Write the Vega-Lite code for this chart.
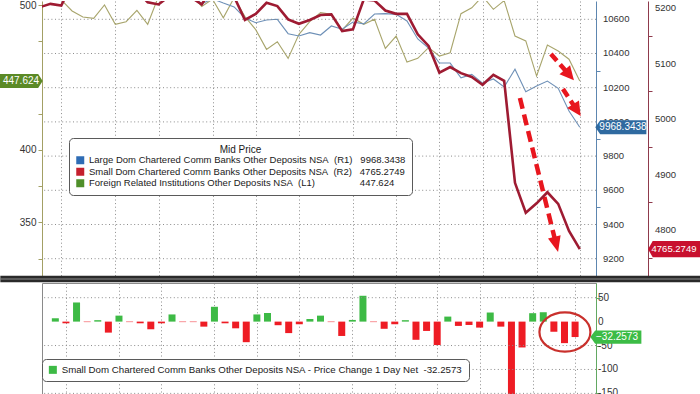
{
"$schema": "https://vega.github.io/schema/vega-lite/v6.json",
"background": "white",
"padding": 0,
"spacing": -2.4,
"config": {"view": {"stroke": null}, "font": "Liberation Sans", "axis": {"labelFont": "Liberation Sans", "labelColor": "#333333"}},
"datasets": {
"lines": [
{"date":"2022-05-11","s":"Large","v":10750},{"date":"2022-05-18","s":"Large","v":10755},{"date":"2022-05-25","s":"Large","v":10760},{"date":"2022-06-01","s":"Large","v":10770},{"date":"2022-06-08","s":"Large","v":10765},{"date":"2022-06-15","s":"Large","v":10775},{"date":"2022-06-22","s":"Large","v":10760},{"date":"2022-06-29","s":"Large","v":10770},{"date":"2022-07-06","s":"Large","v":10765},{"date":"2022-07-13","s":"Large","v":10760},{"date":"2022-07-20","s":"Large","v":10745},{"date":"2022-07-27","s":"Large","v":10740},{"date":"2022-08-03","s":"Large","v":10755},{"date":"2022-08-10","s":"Large","v":10760},{"date":"2022-08-17","s":"Large","v":10750},{"date":"2022-08-24","s":"Large","v":10690},{"date":"2022-08-31","s":"Large","v":10720},{"date":"2022-09-07","s":"Large","v":10695},{"date":"2022-09-14","s":"Large","v":10672},{"date":"2022-09-21","s":"Large","v":10608},{"date":"2022-09-28","s":"Large","v":10580},{"date":"2022-10-05","s":"Large","v":10596},{"date":"2022-10-12","s":"Large","v":10600},{"date":"2022-10-19","s":"Large","v":10516},{"date":"2022-10-26","s":"Large","v":10502},{"date":"2022-11-02","s":"Large","v":10522},{"date":"2022-11-09","s":"Large","v":10508},{"date":"2022-11-16","s":"Large","v":10561},{"date":"2022-11-23","s":"Large","v":10542},{"date":"2022-11-30","s":"Large","v":10584},{"date":"2022-12-07","s":"Large","v":10573},{"date":"2022-12-14","s":"Large","v":10631},{"date":"2022-12-21","s":"Large","v":10633},{"date":"2022-12-28","s":"Large","v":10629},{"date":"2023-01-04","s":"Large","v":10590},{"date":"2023-01-11","s":"Large","v":10485},{"date":"2023-01-18","s":"Large","v":10432},{"date":"2023-01-25","s":"Large","v":10344},{"date":"2023-02-01","s":"Large","v":10344},{"date":"2023-02-08","s":"Large","v":10258},{"date":"2023-02-15","s":"Large","v":10278},{"date":"2023-02-22","s":"Large","v":10227},{"date":"2023-03-01","s":"Large","v":10251},{"date":"2023-03-08","s":"Large","v":10204},{"date":"2023-03-15","s":"Large","v":10308},{"date":"2023-03-22","s":"Large","v":10177},{"date":"2023-03-29","s":"Large","v":10210},{"date":"2023-04-05","s":"Large","v":10239},{"date":"2023-04-12","s":"Large","v":10196},{"date":"2023-04-19","s":"Large","v":10064},{"date":"2023-04-26","s":"Large","v":9968.3438},
{"date":"2022-05-11","s":"Small","v":5202},{"date":"2022-05-18","s":"Small","v":5208},{"date":"2022-05-25","s":"Small","v":5205},{"date":"2022-06-01","s":"Small","v":5245},{"date":"2022-06-08","s":"Small","v":5244},{"date":"2022-06-15","s":"Small","v":5247},{"date":"2022-06-22","s":"Small","v":5224},{"date":"2022-06-29","s":"Small","v":5236},{"date":"2022-07-06","s":"Small","v":5235},{"date":"2022-07-13","s":"Small","v":5231},{"date":"2022-07-20","s":"Small","v":5211},{"date":"2022-07-27","s":"Small","v":5207},{"date":"2022-08-03","s":"Small","v":5222},{"date":"2022-08-10","s":"Small","v":5221},{"date":"2022-08-17","s":"Small","v":5220},{"date":"2022-08-24","s":"Small","v":5207},{"date":"2022-08-31","s":"Small","v":5238},{"date":"2022-09-07","s":"Small","v":5234},{"date":"2022-09-14","s":"Small","v":5221},{"date":"2022-09-21","s":"Small","v":5179},{"date":"2022-09-28","s":"Small","v":5190},{"date":"2022-10-05","s":"Small","v":5210},{"date":"2022-10-12","s":"Small","v":5204},{"date":"2022-10-19","s":"Small","v":5180},{"date":"2022-10-26","s":"Small","v":5172},{"date":"2022-11-02","s":"Small","v":5179},{"date":"2022-11-09","s":"Small","v":5188},{"date":"2022-11-16","s":"Small","v":5189},{"date":"2022-11-23","s":"Small","v":5159},{"date":"2022-11-30","s":"Small","v":5162},{"date":"2022-12-07","s":"Small","v":5216},{"date":"2022-12-14","s":"Small","v":5214},{"date":"2022-12-21","s":"Small","v":5196},{"date":"2022-12-28","s":"Small","v":5190},{"date":"2023-01-04","s":"Small","v":5190},{"date":"2023-01-11","s":"Small","v":5153},{"date":"2023-01-18","s":"Small","v":5132},{"date":"2023-01-25","s":"Small","v":5084},{"date":"2023-02-01","s":"Small","v":5094},{"date":"2023-02-08","s":"Small","v":5083},{"date":"2023-02-15","s":"Small","v":5076},{"date":"2023-02-22","s":"Small","v":5062},{"date":"2023-03-01","s":"Small","v":5080},{"date":"2023-03-08","s":"Small","v":5069},{"date":"2023-03-15","s":"Small","v":4885},{"date":"2023-03-22","s":"Small","v":4831},{"date":"2023-03-29","s":"Small","v":4848},{"date":"2023-04-05","s":"Small","v":4868},{"date":"2023-04-12","s":"Small","v":4847},{"date":"2023-04-19","s":"Small","v":4798},{"date":"2023-04-26","s":"Small","v":4765.2749},
{"date":"2022-05-11","s":"Foreign","v":508},{"date":"2022-05-18","s":"Foreign","v":506},{"date":"2022-05-25","s":"Foreign","v":503.5},{"date":"2022-06-01","s":"Foreign","v":495.9},{"date":"2022-06-08","s":"Foreign","v":491.7},{"date":"2022-06-15","s":"Foreign","v":490.8},{"date":"2022-06-22","s":"Foreign","v":500},{"date":"2022-06-29","s":"Foreign","v":486.7},{"date":"2022-07-06","s":"Foreign","v":488.5},{"date":"2022-07-13","s":"Foreign","v":496.3},{"date":"2022-07-20","s":"Foreign","v":486.7},{"date":"2022-07-27","s":"Foreign","v":506},{"date":"2022-08-03","s":"Foreign","v":512},{"date":"2022-08-10","s":"Foreign","v":510},{"date":"2022-08-17","s":"Foreign","v":508},{"date":"2022-08-24","s":"Foreign","v":499},{"date":"2022-08-31","s":"Foreign","v":504},{"date":"2022-09-07","s":"Foreign","v":491.2},{"date":"2022-09-14","s":"Foreign","v":505},{"date":"2022-09-21","s":"Foreign","v":492},{"date":"2022-09-28","s":"Foreign","v":483},{"date":"2022-10-05","s":"Foreign","v":469.4},{"date":"2022-10-12","s":"Foreign","v":474.7},{"date":"2022-10-19","s":"Foreign","v":463.2},{"date":"2022-10-26","s":"Foreign","v":479.8},{"date":"2022-11-02","s":"Foreign","v":488.5},{"date":"2022-11-09","s":"Foreign","v":494.7},{"date":"2022-11-16","s":"Foreign","v":493.6},{"date":"2022-11-23","s":"Foreign","v":482.6},{"date":"2022-11-30","s":"Foreign","v":491},{"date":"2022-12-07","s":"Foreign","v":486.7},{"date":"2022-12-14","s":"Foreign","v":490.1},{"date":"2022-12-21","s":"Foreign","v":470.1},{"date":"2022-12-28","s":"Foreign","v":478.6},{"date":"2023-01-04","s":"Foreign","v":460.7},{"date":"2023-01-11","s":"Foreign","v":463.2},{"date":"2023-01-18","s":"Foreign","v":470.6},{"date":"2023-01-25","s":"Foreign","v":464.8},{"date":"2023-02-01","s":"Foreign","v":467.1},{"date":"2023-02-08","s":"Foreign","v":494},{"date":"2023-02-15","s":"Foreign","v":498.1},{"date":"2023-02-22","s":"Foreign","v":506},{"date":"2023-03-01","s":"Foreign","v":497},{"date":"2023-03-08","s":"Foreign","v":503},{"date":"2023-03-15","s":"Foreign","v":478.6},{"date":"2023-03-22","s":"Foreign","v":475.2},{"date":"2023-03-29","s":"Foreign","v":451},{"date":"2023-04-05","s":"Foreign","v":472.4},{"date":"2023-04-12","s":"Foreign","v":468.3},{"date":"2023-04-19","s":"Foreign","v":462.6},{"date":"2023-04-26","s":"Foreign","v":447.624}
],
"bars": [
{"date":"2022-05-18","c":7},{"date":"2022-05-25","c":-3.5},{"date":"2022-06-01","c":40},{"date":"2022-06-08","c":-1},{"date":"2022-06-15","c":3},{"date":"2022-06-22","c":-23},{"date":"2022-06-29","c":12.5},{"date":"2022-07-06","c":-1},{"date":"2022-07-13","c":-3.5},{"date":"2022-07-20","c":-16},{"date":"2022-07-27","c":-3.5},{"date":"2022-08-03","c":15},{"date":"2022-08-10","c":-1},{"date":"2022-08-17","c":-1},{"date":"2022-08-24","c":-10.5},{"date":"2022-08-31","c":31},{"date":"2022-09-07","c":-3.5},{"date":"2022-09-14","c":-14},{"date":"2022-09-21","c":-43},{"date":"2022-09-28","c":15},{"date":"2022-10-05","c":18},{"date":"2022-10-12","c":-7.5},{"date":"2022-10-19","c":-24},{"date":"2022-10-26","c":-5.5},{"date":"2022-11-02","c":5.5},{"date":"2022-11-09","c":12.5},{"date":"2022-11-16","c":-1},{"date":"2022-11-23","c":-30},{"date":"2022-11-30","c":3.5},{"date":"2022-12-07","c":54},{"date":"2022-12-14","c":-1},{"date":"2022-12-21","c":-15},{"date":"2022-12-28","c":-5.5},{"date":"2023-01-04","c":3},{"date":"2023-01-11","c":-38},{"date":"2023-01-18","c":-19.5},{"date":"2023-01-25","c":-49},{"date":"2023-02-01","c":10.5},{"date":"2023-02-08","c":-9},{"date":"2023-02-15","c":-7},{"date":"2023-02-22","c":-12.5},{"date":"2023-03-01","c":19},{"date":"2023-03-08","c":-10.5},{"date":"2023-03-15","c":-184},{"date":"2023-03-22","c":-54},{"date":"2023-03-29","c":17.6},{"date":"2023-04-05","c":19.6},{"date":"2023-04-12","c":-21},{"date":"2023-04-19","c":-45},{"date":"2023-04-26","c":-32.2573}
]
},
"vconcat": [
{
"width": 554, "height": 278,
"layer": [
{
"layer": [
{"data": {"name": "lines"}, "transform": [{"filter": "datum.s === 'Foreign'"}],
 "mark": {"type": "line", "color": "#a8a56c", "strokeWidth": 1.1, "clip": true},
 "encoding": {
  "x": {"field": "date", "type": "temporal", "scale": {"domain": [{"year":2022,"month":5,"date":12,"hours":12},{"year":2023,"month":5,"date":6,"hours":12}]},
        "axis": {"values": [{"year":2022,"month":5,"date":25},{"year":2022,"month":6,"date":29},{"year":2022,"month":7,"date":27},{"year":2022,"month":8,"date":31},{"year":2022,"month":9,"date":28},{"year":2022,"month":10,"date":26},{"year":2022,"month":11,"date":30},{"year":2022,"month":12,"date":28},{"year":2023,"month":1,"date":25},{"year":2023,"month":2,"date":22},{"year":2023,"month":3,"date":29},{"year":2023,"month":4,"date":26}],
                 "labels": false, "ticks": false, "domain": false, "title": null, "grid": true, "gridColor": "#8c8c8c", "gridDash": [1, 2.6]}},
  "y": {"field": "v", "type": "quantitative", "scale": {"domain": [311.03, 502.76], "nice": false, "zero": false},
        "axis": {"orient": "left", "values": [325,350,375,400,425,475,500], "labelExpr": "datum.value % 50 === 0 ? datum.label : ''", "labelOverlap": false, "grid": false, "domainColor": "#a3a065", "tickColor": "#a3a065", "tickSize": 4, "labelPadding": 2, "title": null, "labelFontSize": 10, "labelColor": "#333333"}}
 }},
{"data": {"values": [{}]}, "mark": {"type": "rect", "color": "#2a2a2a"},
 "encoding": {"x": {"datum": {"year":2022,"month":4,"date":15,"hours":12}, "type": "temporal"}, "x2": {"datum": {"year":2023,"month":8,"date":1}}, "y": {"datum": 313.31, "type": "quantitative"}, "y2": {"datum": 308.75}}},
{"data": {"values": [{}]}, "mark": {"type": "rect", "color": "#8c8c8c"},
 "encoding": {"x": {"datum": {"year":2022,"month":4,"date":15,"hours":12}, "type": "temporal"}, "x2": {"datum": {"year":2023,"month":8,"date":1}}, "y": {"datum": 311.37, "type": "quantitative"}, "y2": {"datum": 310.69}}},
{"data": {"name": "lines"}, "transform": [{"filter": "datum.s === 'Foreign' && utcyear(datum.date) === 2023 && utcmonth(datum.date) === 3 && utcdate(datum.date) === 26"}],
 "mark": {"type": "point", "shape": "M0.1,0 L-0.55,-1 L-6,-1 L-6,1 L-0.55,1 Z", "size": 196, "filled": true, "color": "#5b8a26", "opacity": 1},
 "encoding": {"x": {"datum": {"year":2022,"month":5,"date":12,"hours":12}, "type": "temporal"}, "y": {"field": "v", "type": "quantitative"}}},
{"data": {"name": "lines"}, "transform": [{"filter": "datum.s === 'Foreign' && utcyear(datum.date) === 2023 && utcmonth(datum.date) === 3 && utcdate(datum.date) === 26"}],
 "mark": {"type": "text", "color": "white", "fontSize": 10, "dx": -21, "align": "center", "baseline": "middle"},
 "encoding": {"x": {"datum": {"year":2022,"month":5,"date":12,"hours":12}, "type": "temporal"}, "y": {"field": "v", "type": "quantitative"}, "text": {"field": "v", "type": "quantitative", "format": ".3f"}}}
]
},
{
"layer": [
{"data": {"name": "lines"}, "transform": [{"filter": "datum.s === 'Large'"}],
 "mark": {"type": "line", "color": "#6e90b7", "strokeWidth": 1.1, "clip": true},
 "encoding": {
  "x": {"field": "date", "type": "temporal"},
  "y": {"field": "v", "type": "quantitative", "scale": {"domain": [9081.3, 10707], "nice": false, "zero": false},
        "axis": {"orient": "right", "values": [9100,9200,9300,9400,9500,9600,9700,9800,9900,10000,10100,10200,10300,10400,10500,10600], "labels": false, "grid": false, "domainColor": "#5d86b0", "tickColor": "#5d86b0", "tickSize": 4, "title": null}}
 }},
{"data": {"values": [{}]}, "mark": {"type": "rule", "color": "#8c8c8c", "strokeDash": [1, 2.6], "strokeWidth": 1}, "encoding": {"y": {"datum": 10600, "type": "quantitative"}}},
{"data": {"values": [{}]}, "mark": {"type": "rule", "color": "#8c8c8c", "strokeDash": [1, 2.6], "strokeWidth": 1}, "encoding": {"y": {"datum": 10400, "type": "quantitative"}}},
{"data": {"values": [{}]}, "mark": {"type": "rule", "color": "#8c8c8c", "strokeDash": [1, 2.6], "strokeWidth": 1}, "encoding": {"y": {"datum": 10200, "type": "quantitative"}}},
{"data": {"values": [{}]}, "mark": {"type": "rule", "color": "#8c8c8c", "strokeDash": [1, 2.6], "strokeWidth": 1}, "encoding": {"y": {"datum": 10000, "type": "quantitative"}}},
{"data": {"values": [{}]}, "mark": {"type": "rule", "color": "#8c8c8c", "strokeDash": [1, 2.6], "strokeWidth": 1}, "encoding": {"y": {"datum": 9800, "type": "quantitative"}}},
{"data": {"values": [{}]}, "mark": {"type": "rule", "color": "#8c8c8c", "strokeDash": [1, 2.6], "strokeWidth": 1}, "encoding": {"y": {"datum": 9600, "type": "quantitative"}}},
{"data": {"values": [{}]}, "mark": {"type": "rule", "color": "#8c8c8c", "strokeDash": [1, 2.6], "strokeWidth": 1}, "encoding": {"y": {"datum": 9400, "type": "quantitative"}}},
{"data": {"values": [{}]}, "mark": {"type": "rule", "color": "#8c8c8c", "strokeDash": [1, 2.6], "strokeWidth": 1}, "encoding": {"y": {"datum": 9200, "type": "quantitative"}}},
{"data": {"values": [{}]}, "mark": {"type": "text", "align": "left", "baseline": "middle", "dx": 7, "fontSize": 9.5, "color": "#333333"}, "encoding": {"x": {"datum": {"year":2023,"month":5,"date":6,"hours":12}, "type": "temporal"}, "y": {"datum": 10600, "type": "quantitative"}, "text": {"value": "10600"}}},
{"data": {"values": [{}]}, "mark": {"type": "text", "align": "left", "baseline": "middle", "dx": 7, "fontSize": 9.5, "color": "#333333"}, "encoding": {"x": {"datum": {"year":2023,"month":5,"date":6,"hours":12}, "type": "temporal"}, "y": {"datum": 10400, "type": "quantitative"}, "text": {"value": "10400"}}},
{"data": {"values": [{}]}, "mark": {"type": "text", "align": "left", "baseline": "middle", "dx": 7, "fontSize": 9.5, "color": "#333333"}, "encoding": {"x": {"datum": {"year":2023,"month":5,"date":6,"hours":12}, "type": "temporal"}, "y": {"datum": 10200, "type": "quantitative"}, "text": {"value": "10200"}}},
{"data": {"values": [{}]}, "mark": {"type": "text", "align": "left", "baseline": "middle", "dx": 7, "fontSize": 9.5, "color": "#333333"}, "encoding": {"x": {"datum": {"year":2023,"month":5,"date":6,"hours":12}, "type": "temporal"}, "y": {"datum": 10000, "type": "quantitative"}, "text": {"value": "10000"}}},
{"data": {"values": [{}]}, "mark": {"type": "text", "align": "left", "baseline": "middle", "dx": 7, "fontSize": 9.5, "color": "#333333"}, "encoding": {"x": {"datum": {"year":2023,"month":5,"date":6,"hours":12}, "type": "temporal"}, "y": {"datum": 9800, "type": "quantitative"}, "text": {"value": "9800"}}},
{"data": {"values": [{}]}, "mark": {"type": "text", "align": "left", "baseline": "middle", "dx": 7, "fontSize": 9.5, "color": "#333333"}, "encoding": {"x": {"datum": {"year":2023,"month":5,"date":6,"hours":12}, "type": "temporal"}, "y": {"datum": 9600, "type": "quantitative"}, "text": {"value": "9600"}}},
{"data": {"values": [{}]}, "mark": {"type": "text", "align": "left", "baseline": "middle", "dx": 7, "fontSize": 9.5, "color": "#333333"}, "encoding": {"x": {"datum": {"year":2023,"month":5,"date":6,"hours":12}, "type": "temporal"}, "y": {"datum": 9400, "type": "quantitative"}, "text": {"value": "9400"}}},
{"data": {"values": [{}]}, "mark": {"type": "text", "align": "left", "baseline": "middle", "dx": 7, "fontSize": 9.5, "color": "#333333"}, "encoding": {"x": {"datum": {"year":2023,"month":5,"date":6,"hours":12}, "type": "temporal"}, "y": {"datum": 9200, "type": "quantitative"}, "text": {"value": "9200"}}},
{"data": {"name": "lines"},
 "mark": {"type": "point", "filled": true, "opacity": 0, "clip": true},
 "encoding": {
  "x": {"field": "date", "type": "temporal"},
  "y": {"field": "v", "type": "quantitative"},
  "fill": {"field": "s", "type": "nominal", "scale": {"domain": ["Large", "Small", "Foreign"], "range": ["#2e6cb5", "#c5202e", "#4f8f2a"]},
   "legend": {"title": "Mid Price", "orient": "none", "legendX": 27, "legendY": 137, "direction": "vertical",
    "symbolType": "square", "symbolSize": 64, "symbolStrokeWidth": 0, "symbolOpacity": 1,
    "labelFont": "Liberation Sans", "labelFontSize": 9.5, "labelColor": "#1a1a1a", "labelLimit": 0, "labelOffset": 4,
    "titleFont": "Liberation Sans", "titleFontSize": 10, "titleFontWeight": "normal", "titleColor": "#1a1a1a", "titleAnchor": "middle", "titlePadding": 1,
    "fillColor": "white", "strokeColor": "#5a5a5a", "cornerRadius": 4, "padding": 6.5, "rowPadding": 0.5,
    "labelExpr": "datum.label === 'Large' ? 'Large Dom Chartered Comm Banks Other Deposits NSA\u00a0\u00a0(R1)\u00a0\u00a0\u00a09968.3438' : datum.label === 'Small' ? 'Small Dom Chartered Comm Banks Other Deposits NSA\u00a0\u00a0(R2)\u00a0\u00a0\u00a04765.2749' : 'Foreign Related Institutions Other Deposits NSA\u00a0\u00a0(L1)\u00a0\u00a0\u00a0\u00a0\u00a0\u00a0\u00a0\u00a0\u00a0\u00a0\u00a0\u00a0\u00a0\u00a0\u00a0\u00a0\u00a0447.624'"}}
 }},
{"data": {"values": [{}]}, "mark": {"type": "rule", "color": "#e8161e", "strokeWidth": 4.5, "strokeDash": [11, 6]},
 "encoding": {"x": {"datum": {"year":2023,"month":3,"date":18,"hours":5}, "type": "temporal"}, "x2": {"datum": {"year":2023,"month":4,"date":9,"hours":19}}, "y": {"datum": 10139.8, "type": "quantitative"}, "y2": {"datum": 9316.4}}},
{"data": {"values": [{}]}, "mark": {"type": "point", "shape": "M0,0 L-1,-2.4 L1,-2.4 Z", "size": 169, "filled": true, "color": "#e8161e", "opacity": 1, "angle": 346},
 "encoding": {"x": {"datum": {"year":2023,"month":4,"date":11,"hours":22}, "type": "temporal"}, "y": {"datum": 9239.2, "type": "quantitative"}}},
{"data": {"values": [{}]}, "mark": {"type": "rule", "color": "#e8161e", "strokeWidth": 4.5, "strokeDash": [9, 5]},
 "encoding": {"x": {"datum": {"year":2023,"month":4,"date":7,"hours":7}, "type": "temporal"}, "x2": {"datum": {"year":2023,"month":4,"date":16,"hours":17}}, "y": {"datum": 10397, "type": "quantitative"}, "y2": {"datum": 10300}}},
{"data": {"values": [{}]}, "mark": {"type": "point", "shape": "M0,0 L-1,-2 L1,-2 Z", "size": 196, "filled": true, "color": "#e8161e", "opacity": 1, "angle": 319},
 "encoding": {"x": {"datum": {"year":2023,"month":4,"date":22,"hours":5}, "type": "temporal"}, "y": {"datum": 10243, "type": "quantitative"}}},
{"data": {"values": [{}]}, "mark": {"type": "rule", "color": "#e8161e", "strokeWidth": 4.5, "strokeDash": [9, 5]},
 "encoding": {"x": {"datum": {"year":2023,"month":4,"date":15,"hours":2}, "type": "temporal"}, "x2": {"datum": {"year":2023,"month":4,"date":22,"hours":0}}, "y": {"datum": 10192.4, "type": "quantitative"}, "y2": {"datum": 10097.7}}},
{"data": {"values": [{}]}, "mark": {"type": "point", "shape": "M0,0 L-1,-2 L1,-2 Z", "size": 196, "filled": true, "color": "#e8161e", "opacity": 1, "angle": 327},
 "encoding": {"x": {"datum": {"year":2023,"month":4,"date":26,"hours":14}, "type": "temporal"}, "y": {"datum": 10034.5, "type": "quantitative"}}},
{"data": {"name": "lines"}, "transform": [{"filter": "datum.s === 'Large' && utcyear(datum.date) === 2023 && utcmonth(datum.date) === 3 && utcdate(datum.date) === 26"}],
 "mark": {"type": "point", "shape": "M-0.1,0 L0.6,-1 L7.2,-1 L7.2,1 L0.6,1 Z", "size": 196, "filled": true, "color": "#2f6aa0", "opacity": 1},
 "encoding": {"x": {"datum": {"year":2023,"month":5,"date":6,"hours":12}, "type": "temporal"}, "y": {"field": "v", "type": "quantitative"}}},
{"data": {"name": "lines"}, "transform": [{"filter": "datum.s === 'Large' && utcyear(datum.date) === 2023 && utcmonth(datum.date) === 3 && utcdate(datum.date) === 26"}],
 "mark": {"type": "text", "color": "white", "fontSize": 10, "dx": 27, "align": "center", "baseline": "middle"},
 "encoding": {"x": {"datum": {"year":2023,"month":5,"date":6,"hours":12}, "type": "temporal"}, "y": {"field": "v", "type": "quantitative"}, "text": {"field": "v", "type": "quantitative", "format": ".4f"}}}
]
},
{
"layer": [
{"data": {"name": "lines"}, "transform": [{"filter": "datum.s === 'Small'"}],
 "mark": {"type": "line", "color": "#9e1b32", "strokeWidth": 2.6, "clip": true},
 "encoding": {
  "x": {"field": "date", "type": "temporal"},
  "y": {"field": "v", "type": "quantitative", "scale": {"domain": [4711.4, 5213.2], "nice": false, "zero": false},
        "axis": {"orient": "right", "offset": 52, "values": [4750,4800,4850,4900,4950,5000,5050,5100,5150,5200], "labels": false, "grid": false, "domainColor": "#8f3a4c", "tickColor": "#8f3a4c", "tickSize": 4, "title": null}}
 }},
{"data": {"values": [{}]}, "mark": {"type": "text", "align": "left", "baseline": "middle", "dx": 59, "fontSize": 9.5, "color": "#333333"}, "encoding": {"x": {"datum": {"year":2023,"month":5,"date":6,"hours":12}, "type": "temporal"}, "y": {"datum": 5200, "type": "quantitative"}, "text": {"value": "5200"}}},
{"data": {"values": [{}]}, "mark": {"type": "text", "align": "left", "baseline": "middle", "dx": 59, "fontSize": 9.5, "color": "#333333"}, "encoding": {"x": {"datum": {"year":2023,"month":5,"date":6,"hours":12}, "type": "temporal"}, "y": {"datum": 5100, "type": "quantitative"}, "text": {"value": "5100"}}},
{"data": {"values": [{}]}, "mark": {"type": "text", "align": "left", "baseline": "middle", "dx": 59, "fontSize": 9.5, "color": "#333333"}, "encoding": {"x": {"datum": {"year":2023,"month":5,"date":6,"hours":12}, "type": "temporal"}, "y": {"datum": 5000, "type": "quantitative"}, "text": {"value": "5000"}}},
{"data": {"values": [{}]}, "mark": {"type": "text", "align": "left", "baseline": "middle", "dx": 59, "fontSize": 9.5, "color": "#333333"}, "encoding": {"x": {"datum": {"year":2023,"month":5,"date":6,"hours":12}, "type": "temporal"}, "y": {"datum": 4900, "type": "quantitative"}, "text": {"value": "4900"}}},
{"data": {"values": [{}]}, "mark": {"type": "text", "align": "left", "baseline": "middle", "dx": 59, "fontSize": 9.5, "color": "#333333"}, "encoding": {"x": {"datum": {"year":2023,"month":5,"date":6,"hours":12}, "type": "temporal"}, "y": {"datum": 4800, "type": "quantitative"}, "text": {"value": "4800"}}},
{"data": {"name": "lines"}, "transform": [{"filter": "datum.s === 'Small' && utcyear(datum.date) === 2023 && utcmonth(datum.date) === 3 && utcdate(datum.date) === 26"}],
 "mark": {"type": "point", "shape": "M7.43,0 L8.1,-1.15 L16,-1.15 L16,1.15 L8.1,1.15 Z", "size": 196, "filled": true, "color": "#c8102e", "opacity": 1},
 "encoding": {"x": {"datum": {"year":2023,"month":5,"date":6,"hours":12}, "type": "temporal"}, "y": {"field": "v", "type": "quantitative"}}},
{"data": {"name": "lines"}, "transform": [{"filter": "datum.s === 'Small' && utcyear(datum.date) === 2023 && utcmonth(datum.date) === 3 && utcdate(datum.date) === 26"}],
 "mark": {"type": "text", "color": "white", "fontSize": 9.5, "dx": 78, "align": "center", "baseline": "middle"},
 "encoding": {"x": {"datum": {"year":2023,"month":5,"date":6,"hours":12}, "type": "temporal"}, "y": {"field": "v", "type": "quantitative"}, "text": {"field": "v", "type": "quantitative", "format": ".4f"}}}
]
}
],
"resolve": {"scale": {"y": "independent"}, "axis": {"y": "independent"}}
},
{
"width": 554, "height": 130,
"view": {"stroke": "#8a8a8a", "strokeWidth": 1},
"layer": [
{"data": {"name": "bars"},
 "mark": {"type": "bar", "width": 7},
 "encoding": {
  "x": {"field": "date", "type": "temporal", "scale": {"domain": [{"year":2022,"month":5,"date":12,"hours":12},{"year":2023,"month":5,"date":6,"hours":12}]},
        "axis": {"values": [{"year":2022,"month":5,"date":25},{"year":2022,"month":6,"date":29},{"year":2022,"month":7,"date":27},{"year":2022,"month":8,"date":31},{"year":2022,"month":9,"date":28},{"year":2022,"month":10,"date":26},{"year":2022,"month":11,"date":30},{"year":2022,"month":12,"date":28},{"year":2023,"month":1,"date":25},{"year":2023,"month":2,"date":22},{"year":2023,"month":3,"date":29},{"year":2023,"month":4,"date":26}],
                 "labels": false, "ticks": false, "domain": false, "title": null, "grid": true, "gridColor": "#8c8c8c", "gridDash": [1, 2.6]}},
  "y": {"field": "c", "type": "quantitative", "scale": {"domain": [-191, 80.7], "nice": false, "zero": false},
        "axis": {"orient": "right", "values": [-150,-125,-100,-75,-50,-25,0,25,50], "labels": false, "grid": false, "domainColor": "#62a862", "tickColor": "#62a862", "tickSize": 4, "title": null}},
  "color": {"condition": {"test": "datum.c > 0", "value": "#3dba45"}, "value": "#ee1c24"}
 }},
{"data": {"values": [{}]}, "mark": {"type": "rule", "color": "#8c8c8c", "strokeDash": [1, 2.6], "strokeWidth": 1}, "encoding": {"y": {"datum": 50, "type": "quantitative"}}},
{"data": {"values": [{}]}, "mark": {"type": "rule", "color": "#8c8c8c", "strokeDash": [1, 2.6], "strokeWidth": 1}, "encoding": {"y": {"datum": -50, "type": "quantitative"}}},
{"data": {"values": [{}]}, "mark": {"type": "rule", "color": "#8c8c8c", "strokeDash": [1, 2.6], "strokeWidth": 1}, "encoding": {"y": {"datum": -100, "type": "quantitative"}}},
{"data": {"values": [{}]}, "mark": {"type": "rule", "color": "#8c8c8c", "strokeDash": [1, 2.6], "strokeWidth": 1}, "encoding": {"y": {"datum": -150, "type": "quantitative"}}},
{"data": {"values": [{}]}, "mark": {"type": "text", "align": "left", "baseline": "middle", "dx": 7, "fontSize": 10, "color": "#333333"}, "encoding": {"x": {"datum": {"year":2023,"month":5,"date":6,"hours":12}, "type": "temporal"}, "y": {"datum": 50, "type": "quantitative"}, "text": {"value": "50"}}},
{"data": {"values": [{}]}, "mark": {"type": "text", "align": "left", "baseline": "middle", "dx": 7, "fontSize": 10, "color": "#333333"}, "encoding": {"x": {"datum": {"year":2023,"month":5,"date":6,"hours":12}, "type": "temporal"}, "y": {"datum": 0, "type": "quantitative"}, "text": {"value": "0"}}},
{"data": {"values": [{}]}, "mark": {"type": "text", "align": "left", "baseline": "middle", "dx": 7, "fontSize": 10, "color": "#333333"}, "encoding": {"x": {"datum": {"year":2023,"month":5,"date":6,"hours":12}, "type": "temporal"}, "y": {"datum": -50, "type": "quantitative"}, "text": {"value": "-50"}}},
{"data": {"values": [{}]}, "mark": {"type": "text", "align": "left", "baseline": "middle", "dx": 7, "fontSize": 10, "color": "#333333"}, "encoding": {"x": {"datum": {"year":2023,"month":5,"date":6,"hours":12}, "type": "temporal"}, "y": {"datum": -100, "type": "quantitative"}, "text": {"value": "-100"}}},
{"data": {"values": [{}]}, "mark": {"type": "text", "align": "left", "baseline": "middle", "dx": 7, "fontSize": 10, "color": "#333333"}, "encoding": {"x": {"datum": {"year":2023,"month":5,"date":6,"hours":12}, "type": "temporal"}, "y": {"datum": -150, "type": "quantitative"}, "text": {"value": "-150"}}},
{"data": {"name": "bars"},
 "mark": {"type": "point", "filled": true, "opacity": 0, "clip": true},
 "encoding": {
  "x": {"field": "date", "type": "temporal"},
  "y": {"field": "c", "type": "quantitative"},
  "fill": {"datum": "Small Dom Chartered Comm Banks Other Deposits NSA - Price Change 1 Day Net\u00a0\u00a0-32.2573", "type": "nominal", "scale": {"range": ["#3dba45"]},
   "legend": {"title": null, "orient": "none", "legendX": 0, "legendY": 76, "symbolType": "square", "symbolSize": 64, "symbolStrokeWidth": 0, "symbolOpacity": 1,
    "labelFont": "Liberation Sans", "labelFontSize": 9.7, "labelColor": "#1a1a1a", "labelLimit": 0, "labelOffset": 4,
    "fillColor": "white", "strokeColor": "#5a5a5a", "cornerRadius": 4, "padding": 6}}
 }},
{"data": {"values": [{}]},
 "mark": {"type": "point", "shape": "M-1,0 A1,0.77 0 1,1 1,0 A1,0.77 0 1,1 -1,0 Z", "size": 2601, "filled": false, "color": "#c9302c", "strokeWidth": 2.2, "opacity": 1},
 "encoding": {"x": {"datum": {"year":2023,"month":4,"date":19,"hours":7}, "type": "temporal"}, "y": {"datum": -21.7, "type": "quantitative"}}},
{"data": {"name": "bars"}, "transform": [{"filter": "utcyear(datum.date) === 2023 && utcmonth(datum.date) === 3 && utcdate(datum.date) === 26"}],
 "mark": {"type": "point", "shape": "M-0.1,0 L0.6,-0.95 L7.2,-0.95 L7.2,0.95 L0.6,0.95 Z", "size": 196, "filled": true, "color": "#3cbc46", "opacity": 1},
 "encoding": {"x": {"datum": {"year":2023,"month":5,"date":6,"hours":12}, "type": "temporal"}, "y": {"field": "c", "type": "quantitative"}}},
{"data": {"name": "bars"}, "transform": [{"filter": "utcyear(datum.date) === 2023 && utcmonth(datum.date) === 3 && utcdate(datum.date) === 26"}],
 "mark": {"type": "text", "color": "white", "fontSize": 10, "dx": 26, "align": "center", "baseline": "middle"},
 "encoding": {"x": {"datum": {"year":2023,"month":5,"date":6,"hours":12}, "type": "temporal"}, "y": {"field": "c", "type": "quantitative"}, "text": {"field": "c", "type": "quantitative", "format": ".4f"}}}
]
}
],
"resolve": {"scale": {"fill": "independent"}, "legend": {"fill": "independent"}}
}
